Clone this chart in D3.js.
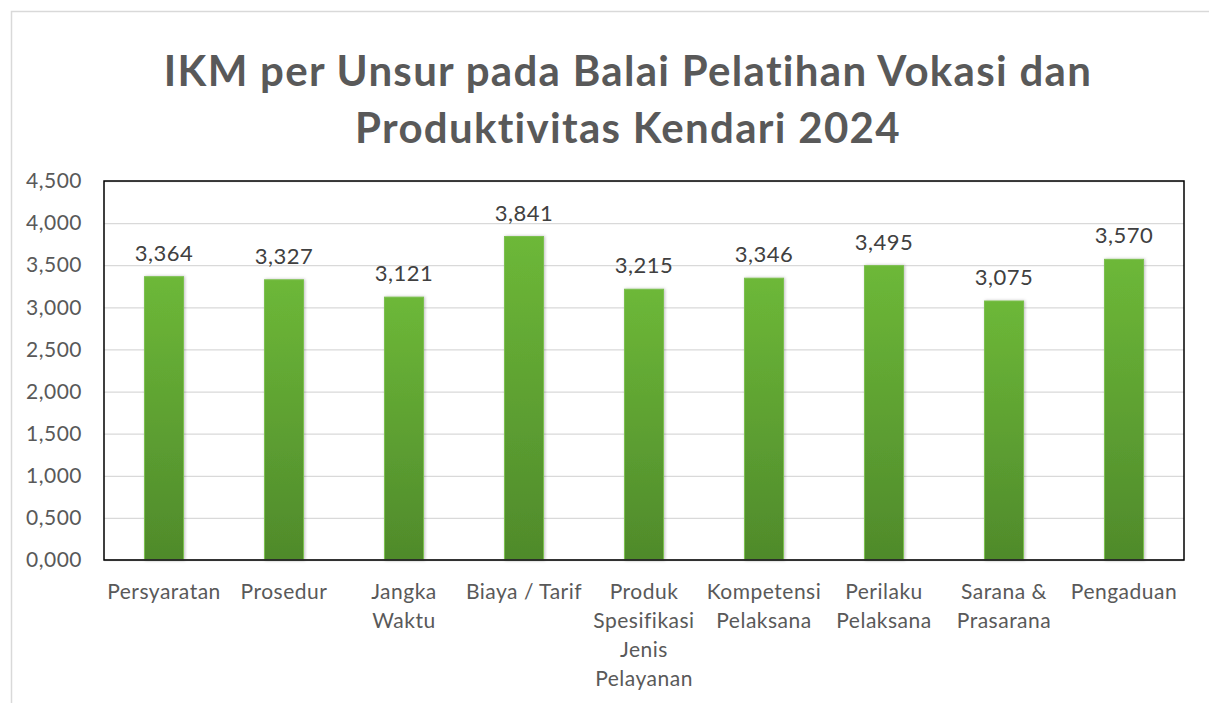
<!DOCTYPE html>
<html>
<head>
<meta charset="utf-8">
<script src="https://cdn.jsdelivr.net/npm/d3@7"></script>
<style>
  body { margin: 0; background: #fff; }
  svg { display: block; font-family: Lato, "Open Sans", sans-serif; }
</style>
</head>
<body>
<svg id="chart" width="1209" height="703"></svg>
<script>
// Chart data
let categories = [
  ["Persyaratan"],
  ["Prosedur"],
  ["Jangka", "Waktu"],
  ["Biaya / Tarif"],
  ["Produk", "Spesifikasi", "Jenis", "Pelayanan"],
  ["Kompetensi", "Pelaksana"],
  ["Perilaku", "Pelaksana"],
  ["Sarana &", "Prasarana"],
  ["Pengaduan"]
];
let values = [3.364, 3.327, 3.121, 3.841, 3.215, 3.346, 3.495, 3.075, 3.570];
let yTicks = [0, 0.5, 1, 1.5, 2, 2.5, 3, 3.5, 4, 4.5];
let titleLines = ["IKM per Unsur pada Balai Pelatihan Vokasi dan", "Produktivitas Kendari 2024"];

// Indonesian style number format: comma as decimal separator
let idLocale = d3.formatLocale({decimal: ",", thousands: ".", grouping: [3], currency: ["Rp", ""]});
let fmt = idLocale.format(".3f");

let margin = {top: 181, right: 25, bottom: 143, left: 104};
let width = 1209 - margin.left - margin.right;
let height = 703 - margin.top - margin.bottom;

let svg = d3.select("#chart");

// Outer chart frame
svg.append("rect")
  .attr("x", 11.5).attr("y", 11.5)
  .attr("width", 1220).attr("height", 720)
  .attr("fill", "none")
  .attr("stroke", "#d9d9d9")
  .attr("stroke-width", 1.5);

// Title
svg.append("text")
  .attr("text-anchor", "middle")
  .attr("font-weight", "bold")
  .attr("font-size", 42)
  .attr("letter-spacing", 1.3)
  .attr("fill", "#595959")
  .selectAll("tspan")
  .data(titleLines)
  .join("tspan")
    .attr("x", 628)
    .attr("y", function(d, i) { return 86 + i * 57; })
    .text(function(d) { return d; });

// Gradient for the bars
let defs = svg.append("defs");
let grad = defs.append("linearGradient")
  .attr("id", "barGrad")
  .attr("x1", 0).attr("y1", 0).attr("x2", 0).attr("y2", 1);
grad.append("stop").attr("offset", "0%").attr("stop-color", "#6db838");
grad.append("stop").attr("offset", "100%").attr("stop-color", "#4f8a2b");

let shadow = defs.append("filter").attr("id", "shadow")
  .attr("x", "-20%").attr("y", "-5%").attr("width", "140%").attr("height", "110%");
shadow.append("feDropShadow")
  .attr("dx", 1).attr("dy", 0).attr("stdDeviation", 1.5)
  .attr("flood-color", "#000").attr("flood-opacity", 0.25);

let g = svg.append("g")
  .attr("transform", `translate(${margin.left}, ${margin.top})`);

// Scales
let xScale = d3.scaleBand()
  .domain(categories.map(function(d) { return d.join(" "); }))
  .range([0, width])
  .paddingInner(0.675)
  .paddingOuter(0.3375);

let yScale = d3.scaleLinear()
  .domain([0, 4.5])
  .range([height, 0]);

// Gridlines
g.append("g")
  .attr("class", "grid")
  .call(d3.axisLeft(yScale).tickValues(yTicks).tickSize(-width).tickFormat(""))
  .call(function(s) { s.select(".domain").remove(); })
  .selectAll("line")
    .attr("stroke", "#d9d9d9")
    .attr("stroke-width", 1.3);

// Y axis labels
g.append("g")
  .attr("class", "y-axis")
  .call(d3.axisLeft(yScale).tickValues(yTicks).tickSize(0).tickPadding(22).tickFormat(fmt))
  .call(function(s) { s.select(".domain").remove(); })
  .selectAll("text")
    .attr("font-family", "Lato, sans-serif")
    .attr("font-size", 21)
    .attr("letter-spacing", 0.5)
    .attr("fill", "#595959");

// Bars
g.selectAll(".bar")
  .data(values)
  .join("rect")
    .attr("class", "bar")
    .attr("x", function(d, i) { return xScale(categories[i].join(" ")); })
    .attr("y", function(d) { return yScale(d); })
    .attr("width", xScale.bandwidth())
    .attr("height", function(d) { return height - yScale(d); })
    .attr("fill", "url(#barGrad)")
    .attr("stroke", "#7cc04f")
    .attr("stroke-width", 1)
    .attr("filter", "url(#shadow)");

// Data labels
g.selectAll(".label")
  .data(values)
  .join("text")
    .attr("class", "label")
    .attr("x", function(d, i) { return xScale(categories[i].join(" ")) + xScale.bandwidth() / 2; })
    .attr("y", function(d) { return yScale(d) - 16; })
    .attr("text-anchor", "middle")
    .attr("font-size", 22)
    .attr("letter-spacing", 0.5)
    .attr("fill", "#404040")
    .text(function(d) { return fmt(d); });

// X axis line
g.append("line")
  .attr("x1", 0).attr("x2", width)
  .attr("y1", height).attr("y2", height)
  .attr("stroke", "#bfbfbf")
  .attr("stroke-width", 1.5);

// Category labels
let catLabels = g.append("g").attr("class", "x-axis")
  .selectAll("text")
  .data(categories)
  .join("text")
    .attr("text-anchor", "middle")
    .attr("font-size", 21)
    .attr("letter-spacing", 0.5)
    .attr("fill", "#595959");

catLabels.selectAll("tspan")
  .data(function(d, i) { return d.map(function(line) { return {line: line, key: categories[i].join(" ")}; }); })
  .join("tspan")
    .attr("x", function(d) { return xScale(d.key) + xScale.bandwidth() / 2; })
    .attr("y", function(d, j) { return height + 39 + j * 29; })
    .text(function(d) { return d.line; });

// Plot area border
g.append("rect")
  .attr("x", 0).attr("y", 0)
  .attr("width", width).attr("height", height)
  .attr("fill", "none")
  .attr("stroke", "#000")
  .attr("stroke-width", 1.5);
</script>
</body>
</html>
